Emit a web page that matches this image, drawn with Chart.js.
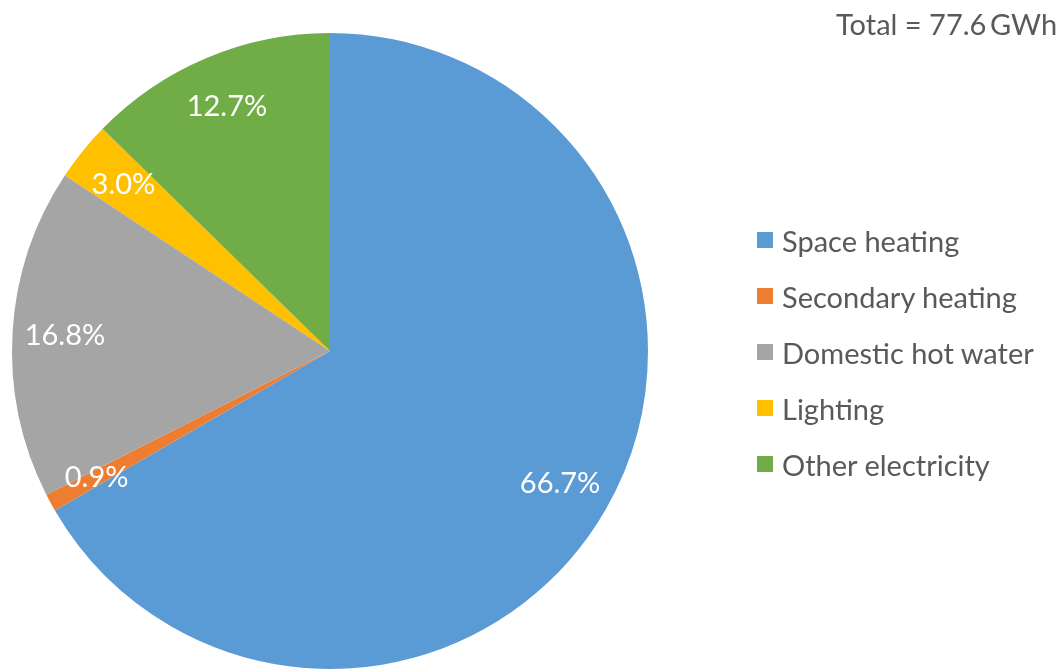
<!DOCTYPE html>
<html>
<head>
<meta charset="utf-8">
<script src="https://cdn.jsdelivr.net/npm/chart.js@4.4.1/dist/chart.umd.min.js"></script>
<style>
  html, body { margin: 0; padding: 0; background: #fff; }
  #wrap { position: relative; width: 1060px; height: 669px; overflow: hidden; }
  #c { position: absolute; left: 0; top: 0; }
  #total { position: absolute; left: 836px; top: 6px; font-family: Lato, "Open Sans", sans-serif; font-size: 29px; color: #595959; white-space: nowrap; }
  #legend { position: absolute; left: 757px; top: 212px; font-family: Lato, "Open Sans", sans-serif; font-size: 29px; color: #595959; }
  .item { height: 56px; display: flex; align-items: center; white-space: nowrap; }
  .sw { width: 16px; height: 16px; margin-right: 9px; flex: none; }
</style>
</head>
<body>
<div id="wrap">
  <canvas id="c" width="1060" height="669"></canvas>
  <div id="total"></div>
  <div id="legend"></div>
</div>
<script>
const categories = ["Space heating", "Secondary heating", "Domestic hot water", "Lighting", "Other electricity"];
const shares = [66.7, 0.9, 16.8, 3.0, 12.7];
const colors = ["#5B9BD5", "#ED7D31", "#A5A5A5", "#FFC000", "#70AD47"];
const totalLabel = "Total = 77.6\u2009GWh";

document.getElementById('total').textContent = totalLabel;
const leg = document.getElementById('legend');
categories.forEach((c, i) => {
  const d = document.createElement('div'); d.className = 'item';
  const s = document.createElement('span'); s.className = 'sw'; s.style.background = colors[i];
  const t = document.createElement('span'); t.textContent = c;
  d.appendChild(s); d.appendChild(t); leg.appendChild(d);
});

const labelPlugin = {
  id: 'sliceLabels',
  afterDatasetsDraw(chart) {
    const ctx = chart.ctx;
    const meta = chart.getDatasetMeta(0);
    ctx.save();
    ctx.fillStyle = '#ffffff';
    ctx.font = '29px Lato, "Open Sans", sans-serif';
    ctx.textAlign = 'center';
    ctx.textBaseline = 'middle';
    meta.data.forEach((arc, i) => {
      const p = arc.getProps(['x', 'y', 'startAngle', 'endAngle', 'outerRadius'], true);
      const mid = (p.startAngle + p.endAngle) / 2;
      const r = p.outerRadius * 0.835;
      const x = p.x + Math.cos(mid) * r;
      const y = p.y + Math.sin(mid) * r;
      ctx.fillText(shares[i].toFixed(1) + '%', x, y);
    });
    ctx.restore();
  }
};

new Chart(document.getElementById('c'), {
  type: 'pie',
  data: {
    labels: categories,
    datasets: [{ data: shares, backgroundColor: colors, borderWidth: 0 }]
  },
  options: {
    responsive: false,
    animation: false,
    layout: { padding: { left: 12, right: 412, top: 33, bottom: 0 } },
    plugins: { legend: { display: false }, tooltip: { enabled: false } }
  },
  plugins: [labelPlugin]
});
</script>
</body>
</html>
